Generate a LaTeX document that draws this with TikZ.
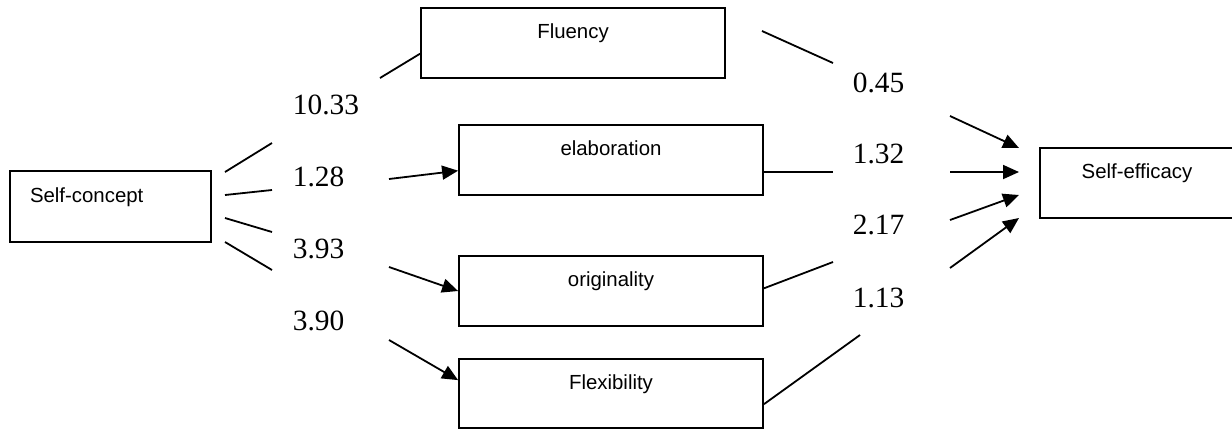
\documentclass[tikz,border=0pt]{standalone}
\usepackage{fontspec}
\setmainfont{Liberation Serif}
\newfontfamily\arial{Liberation Sans}
\usetikzlibrary{arrows.meta}

\begin{document}
\begin{tikzpicture}[x=0.5pt, y=-0.5pt, line width=0.9pt,
		box/.style = {draw, minimum width=152pt, minimum height=35pt, inner sep=0pt, text height=8pt, text depth=12.5pt, font=\arial\fontsize{10.2}{12}\selectfont},
		val/.style = {anchor=west, inner sep=0pt, font=\fontsize{14.7}{17}\selectfont},
		tip/.style = {-{Triangle[length=8pt, width=7pt]}}]
		\useasboundingbox (0,0) rectangle (1232,430);
		\clip (0,0) rectangle (1232,430);
		% boxes
		\node[box, minimum width=100.5pt, minimum height=35.5pt, text width=80.5pt, inner xsep=10pt, align=left] (sc) at (110.5,206.5) {Self-concept};
		\node[box] (flu) at (573,43) {Fluency};
		\node[box] (ela) at (611,160) {elaboration};
		\node[box] (ori) at (611,291) {originality};
		\node[box, minimum height=34.5pt] (flx) at (611,393.5) {Flexibility};
		\node[box, minimum width=97pt] (se) at (1137,183) {Self-efficacy};
		% values
		\node[val] (v1) at (292,105) {10.33};
		\node[val] (v2) at (292,177) {1.28};
		\node[val] (v3) at (292,249) {3.93};
		\node[val] (v4) at (292,321) {3.90};
		\node[val] (w1) at (852,83)  {0.45};
		\node[val] (w2) at (852,154) {1.32};
		\node[val] (w3) at (852,225) {2.17};
		\node[val] (w4) at (852,298) {1.13};
		% gap ends
		\coordinate (p1) at (225,172); \coordinate (q1) at (272,143); \coordinate (r1) at (380,78);
		\coordinate (p2) at (225,195); \coordinate (q2) at (272,190); \coordinate (r2) at (389,179);
		\coordinate (p3) at (225,218); \coordinate (q3) at (272,232); \coordinate (r3) at (389,267);
		\coordinate (p4) at (225,242); \coordinate (q4) at (272,270); \coordinate (r4) at (389,340);
		\coordinate (s1) at (762,31);  \coordinate (t1) at (833,63);  \coordinate (u1) at (950,116); \coordinate (e1) at (1019,148);
		\coordinate (t2) at (833,172); \coordinate (u2) at (950,172); \coordinate (e2) at (1019,172);
		\coordinate (t3) at (833,262); \coordinate (u3) at (950,220); \coordinate (e3) at (1019,195);
		\coordinate (t4) at (860,335); \coordinate (u4) at (950,268); \coordinate (e4) at (1019,218);
		% self-concept to the four
		\draw (p1) -- (q1); \draw (r1) -- (flu.184.5);
		\draw (p2) -- (q2); \draw[tip] (r2) -- (ela.184.5);
		\draw (p3) -- (q3); \draw[tip] (r3) -- (ori.west);
		\draw (p4) -- (q4); \draw[tip] (r4) -- (flx.175.3);
		% the four to self-efficacy
		\draw (s1) -- (t1); \draw[tip] (u1) -- (e1);
		\draw (ela.east |- t2) -- (t2); \draw[tip] (u2) -- (e2);
		\draw (ori.1.5) -- (t3); \draw[tip] (u3) -- (e3);
		\draw (flx.-4) -- (t4); \draw[tip] (u4) -- (e4);
	\end{tikzpicture}
\end{document}
